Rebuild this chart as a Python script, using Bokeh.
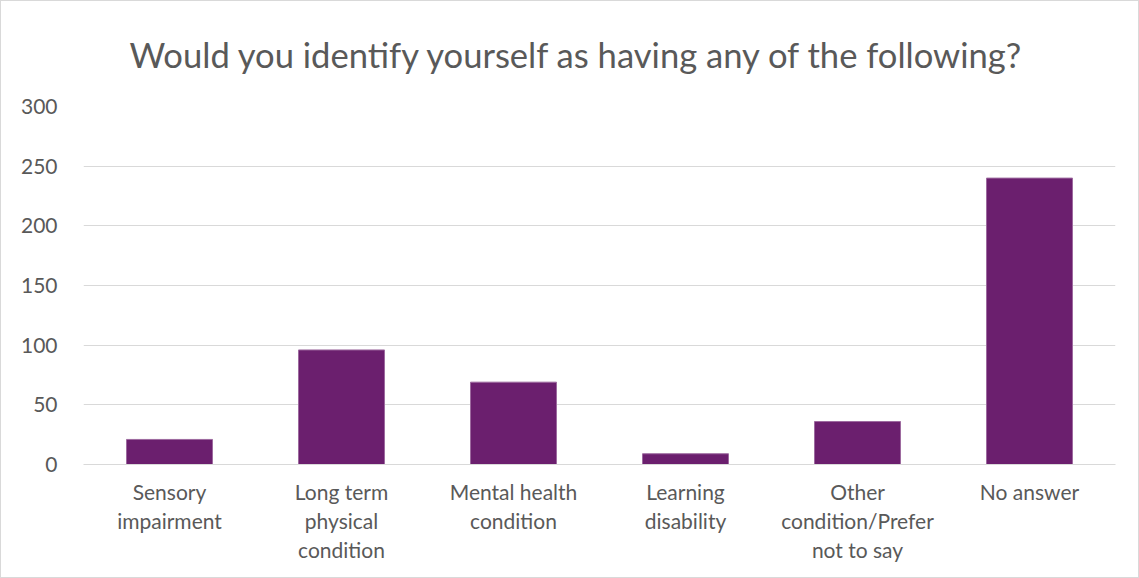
from bokeh.plotting import figure
from bokeh.models import Title, ColumnDataSource, FixedTicker, CategoricalAxis, CustomJSTickFormatter
from bokeh.embed import file_html
from bokeh.resources import INLINE

categories = ["Sensory impairment", "Long term physical condition", "Mental health condition",
              "Learning disability", "Other condition/Prefer not to say", "No answer"]
label_line1 = ["Sensory", "Long term", "Mental health", "Learning", "Other", "No answer"]
label_line2 = ["impairment", "physical", "condition", "disability", "condition/Prefer", ""]
label_line3 = ["", "condition", "", "", "not to say", ""]
values = [21, 96, 69, 9, 36, 240]
y_ticks = [0, 50, 100, 150, 200, 250, 300]

FONT = "Lato"
TXT = "#595959"
GRID = "#d9d9d9"

src = ColumnDataSource(dict(cat=categories, val=values))

p = figure(x_range=categories, y_range=(0, 300), width=1139, height=578,
           output_backend="svg", toolbar_location=None,
           min_border_left=82, min_border_right=25, min_border_top=105, min_border_bottom=115)
p.vbar(x="cat", top="val", width=0.5, source=src, fill_color="#6b1f6e", line_color="#9d6a9f", line_width=1)

t = Title(text="Would you identify yourself as having any of the following?", align="left", offset=46,
          text_font=FONT, text_font_size="34.6px", text_font_style="normal", text_color=TXT,
          standoff=60, vertical_align="top")
p.add_layout(t, "above")

p.outline_line_color = None
p.xgrid.grid_line_color = None
p.ygrid.grid_line_color = GRID
p.ygrid.grid_line_width = 1
p.yaxis.ticker = FixedTicker(ticks=y_ticks)
p.yaxis.axis_line_color = None
p.yaxis.major_tick_line_color = None
p.yaxis.minor_tick_line_color = None
p.yaxis.major_label_standoff = 20
p.yaxis.major_label_text_font = FONT
p.yaxis.major_label_text_font_size = "21px"
p.yaxis.major_label_text_color = TXT


def fmt(lines):
    return CustomJSTickFormatter(args=dict(m={c: l for c, l in zip(categories, lines)}),
                                 code="const s = m[tick]; return (s === undefined) ? '' : s;")


first = p.xaxis[0]
first.axis_line_color = GRID
first.major_tick_line_color = None
first.major_tick_out = 0
first.major_label_standoff = 14
first.formatter = fmt(label_line1)

axes = [first]
for lines in (label_line2, label_line3):
    ax = CategoricalAxis(axis_line_color=None, major_tick_line_color=None, minor_tick_line_color=None,
                         major_tick_out=0, major_label_standoff=1, formatter=fmt(lines))
    p.add_layout(ax, "below")
    axes.append(ax)

for ax in axes:
    ax.major_label_text_font = FONT
    ax.major_label_text_font_size = "21px"
    ax.major_label_text_color = TXT

p.styles = {"border": "1px solid #d9d9d9", "box-sizing": "border-box"}

open("out.html", "w").write(file_html(p, INLINE))
